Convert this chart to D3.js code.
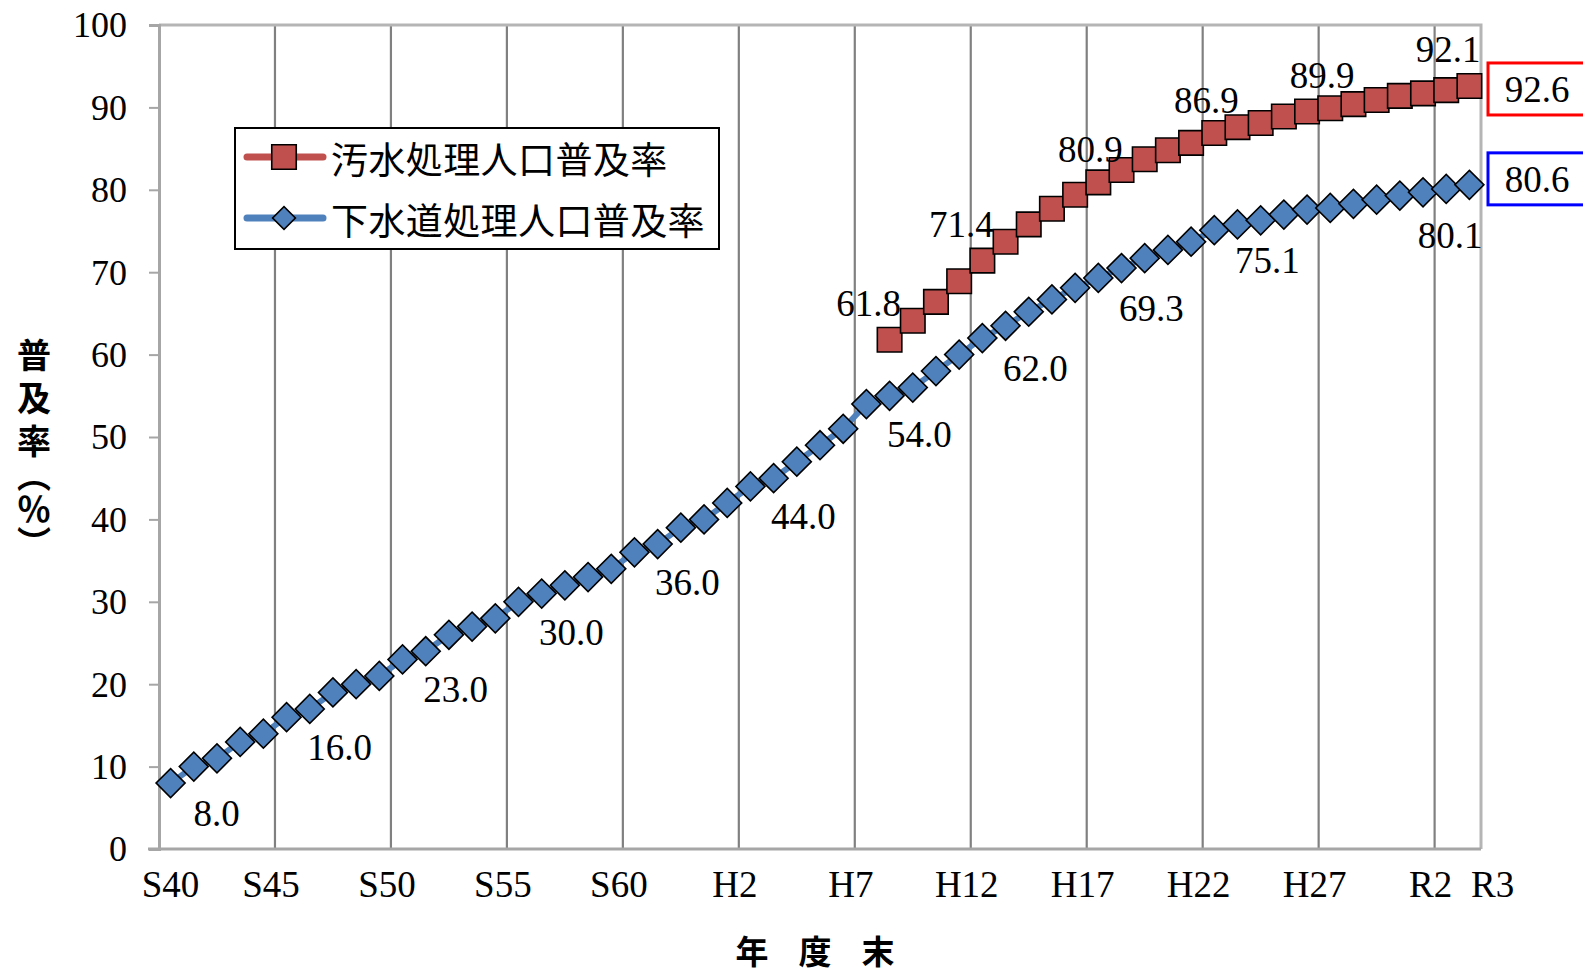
<!DOCTYPE html>
<html><head><meta charset="utf-8">
<script src="https://cdn.jsdelivr.net/npm/d3@7"></script>
<style>
html,body{margin:0;padding:0;background:#fff;}
svg{display:block;}
</style></head>
<body>
<svg id="chart" width="1583" height="972"></svg>
<script>
// ---- data ----
const categories = ["S40","S41","S42","S43","S44","S45","S46","S47","S48","S49",
  "S50","S51","S52","S53","S54","S55","S56","S57","S58","S59",
  "S60","S61","S62","S63","H1","H2","H3","H4","H5","H6",
  "H7","H8","H9","H10","H11","H12","H13","H14","H15","H16",
  "H17","H18","H19","H20","H21","H22","H23","H24","H25","H26",
  "H27","H28","H29","H30","R1","R2","R3"];
const sewerValues = [8,10,11,13,14,16,17,19,20,21,
  23,24,26,27,28,30,31,32,33,34,
  36,37,39,40,42,44,45,47,49,51,
  54,55,56,58,60,62,63.5,65.2,66.7,68.1,
  69.3,70.5,71.7,72.7,73.7,75.1,75.8,76.3,77.0,77.6,
  77.8,78.3,78.8,79.3,79.7,80.1,80.6];
const wastewaterStart = "H8";
const wastewaterValues = [61.8,64.1,66.4,68.9,71.4,73.7,75.8,77.7,79.4,80.9,
  82.4,83.7,84.8,85.7,86.9,87.6,88.1,88.9,89.5,89.9,
  90.4,90.9,91.4,91.7,92.1,92.6];
const tickLabels = ["S40","S45","S50","S55","S60","H2","H7","H12","H17","H22","H27","R2","R3"];
const gridCats = ["S45","S50","S55","S60","H2","H7","H12","H17","H22","H27","R2"];
const yTicks = [0,10,20,30,40,50,60,70,80,90,100];
const sewerLabelCats = ["S40","S45","S50","S55","S60","H2","H7","H12","H17","H22","R2"];
const wasteLabelCats = ["H8","H12","H17","H22","H27","R2"];
const seriesNames = ["汚水処理人口普及率","下水道処理人口普及率"];
const yTitle = "普及率";
const yTitleUnit = "（％）";
const xTitleChars = ["年","度","末"];

// ---- build ----
const svg = d3.select("#chart");
svg.append("rect").attr("width",1583).attr("height",972).attr("fill","#fff");
const L = 159, R = 1481, T = 25, B = 849;
const x = d3.scaleBand().domain(categories).range([L, R]).padding(0);
const bw = x.bandwidth();
const cx = c => x(c) + bw/2;
const y = d3.scaleLinear().domain([0,100]).range([B, T]);

const sewer = categories.map((c,i)=>({c, v: sewerValues[i]}));
const s0 = categories.indexOf(wastewaterStart);
const waste = wastewaterValues.map((v,i)=>({c: categories[s0+i], v}));

const serif = "'Liberation Serif','Times New Roman',serif";
const cjk = "'Noto Sans CJK JP','Noto Sans CJK SC',sans-serif";

// gridlines
svg.append("g").selectAll("line").data(gridCats).join("line")
  .attr("x1", d=>x(d)).attr("x2", d=>x(d)).attr("y1", T).attr("y2", B)
  .attr("stroke","#808080").attr("stroke-width",2.2);
// frame top/right
svg.append("path").attr("d",`M${L},${T}H${R}V${B}`).attr("fill","none")
  .attr("stroke","#b5b5b5").attr("stroke-width",3);

// y axis
const yAxis = d3.axisLeft(y).tickValues(yTicks).tickSize(10).tickPadding(22).tickFormat(d3.format("d"));
const gy = svg.append("g").attr("transform",`translate(${L},0)`).call(yAxis);
gy.select(".domain").attr("stroke","#a6a6a6").attr("stroke-width",3);
gy.selectAll(".tick line").attr("stroke","#a6a6a6").attr("stroke-width",2);
gy.selectAll(".tick text").attr("font-family",serif).attr("font-size",36).attr("fill","#000").attr("dy","0.33em");

// x axis line
svg.append("line").attr("x1",L-11).attr("x2",R).attr("y1",B).attr("y2",B)
  .attr("stroke","#a6a6a6").attr("stroke-width",3);

// x tick labels
svg.append("g").selectAll("text").data(tickLabels).join("text")
  .attr("x",(d,i)=> i===0 ? cx(d) : (i===tickLabels.length-1 ? x(d)+bw*1.5 : x(d)-4))
  .attr("y",897).attr("text-anchor","middle")
  .attr("font-family",serif).attr("font-size",37).attr("fill","#000").text(d=>d);

// lines
const line = d3.line().x(d=>cx(d.c)).y(d=>y(d.v));
svg.append("path").datum(sewer).attr("d",line).attr("fill","none")
  .attr("stroke","#4F81BD").attr("stroke-width",6);
svg.append("path").datum(waste).attr("d",line).attr("fill","none")
  .attr("stroke","#C0504D").attr("stroke-width",6);

// markers
const sq = d3.symbol().type(d3.symbolSquare).size(600);
const dia = d3.symbol().type(d3.symbolSquare).size(420);
svg.append("g").selectAll("path").data(sewer).join("path")
  .attr("d",dia).attr("transform",d=>`translate(${cx(d.c)},${y(d.v)}) rotate(45)`)
  .attr("fill","#4F81BD").attr("stroke","#000").attr("stroke-width",1.6);
svg.append("g").selectAll("path").data(waste).join("path")
  .attr("d",sq).attr("transform",d=>`translate(${cx(d.c)},${y(d.v)})`)
  .attr("fill","#C0504D").attr("stroke","#000").attr("stroke-width",1.6);

// data labels
const fmt = d3.format(".1f");
const sewerLab = sewer.filter(d=>sewerLabelCats.includes(d.c));
svg.append("g").selectAll("text").data(sewerLab).join("text")
  .attr("x",(d,i)=> i===sewerLab.length-1 ? cx(d.c)+4 : cx(d.c)+(i===0?46:53))
  .attr("y",(d,i)=> y(d.v) + (i===sewerLab.length-1 ? 59 : 43))
  .attr("text-anchor","middle").attr("font-family",serif).attr("font-size",37).attr("fill","#000")
  .text(d=>fmt(d.v));
const wasteLab = waste.filter(d=>wasteLabelCats.includes(d.c));
svg.append("g").selectAll("text").data(wasteLab).join("text")
  .attr("x",(d,i)=> i===wasteLab.length-1 ? cx(d.c)+2 : cx(d.c)+(i<2?-21:-8))
  .attr("y",(d,i)=> y(d.v) + (i===wasteLab.length-1 ? -28 : (i<2?-24:-20)))
  .attr("text-anchor","middle").attr("font-family",serif).attr("font-size",37).attr("fill","#000")
  .text(d=>fmt(d.v));

// end value boxes
const lastW = waste[waste.length-1], lastS = sewer[sewer.length-1];
[[lastW,"#FF0000",-23],[lastS,"#0000FF",-32]].forEach(([d,col,off])=>{
  const cy = y(d.v)+off+26;
  svg.append("rect").attr("x",R+7).attr("y",cy-26).attr("width",110).attr("height",52)
    .attr("fill","#fff").attr("stroke",col).attr("stroke-width",3);
  svg.append("text").attr("x",R+56).attr("y",cy+13).attr("text-anchor","middle")
    .attr("font-family",serif).attr("font-size",37).attr("fill","#000").text(fmt(d.v));
});

// legend
const lg = svg.append("g");
lg.append("rect").attr("x",235).attr("y",128).attr("width",484).attr("height",121)
  .attr("fill","#fff").attr("stroke","#000").attr("stroke-width",2);
const legendRows = [
  {name: seriesNames[0], color:"#C0504D", sym: sq, rot:0, ly:157},
  {name: seriesNames[1], color:"#4F81BD", sym: d3.symbol().type(d3.symbolSquare).size(260), rot:45, ly:218}
];
legendRows.forEach(r=>{
  lg.append("line").attr("x1",247).attr("x2",323).attr("y1",r.ly).attr("y2",r.ly)
    .attr("stroke",r.color).attr("stroke-width",7).attr("stroke-linecap","round");
  lg.append("path").attr("d",r.sym).attr("transform",`translate(284,${r.ly}) rotate(${r.rot})`)
    .attr("fill",r.color).attr("stroke","#000").attr("stroke-width",1.6);
  lg.append("text").attr("x",331).attr("y",r.ly+1).attr("dominant-baseline","central")
    .attr("font-family",cjk).attr("font-size",37).attr("letter-spacing",0.4).attr("fill","#000").text(r.name);
});

// y title (vertical)
const yt = svg.append("g").attr("font-family",cjk).attr("font-weight","bold").attr("font-size",34).attr("fill","#000");
yt.append("text").attr("x",34).attr("y",338)
  .style("writing-mode","vertical-rl").attr("letter-spacing",9).text(yTitle);
yt.append("text").attr("x",34).attr("y",458)
  .style("writing-mode","vertical-rl").text(yTitleUnit);

// x title
svg.append("g").selectAll("text").data(xTitleChars).join("text")
  .attr("x",(d,i)=>752+i*63).attr("y",950).attr("text-anchor","middle").attr("dominant-baseline","central")
  .attr("font-family",cjk).attr("font-weight","bold").attr("font-size",33).attr("fill","#000").text(d=>d);
</script>
</body></html>
